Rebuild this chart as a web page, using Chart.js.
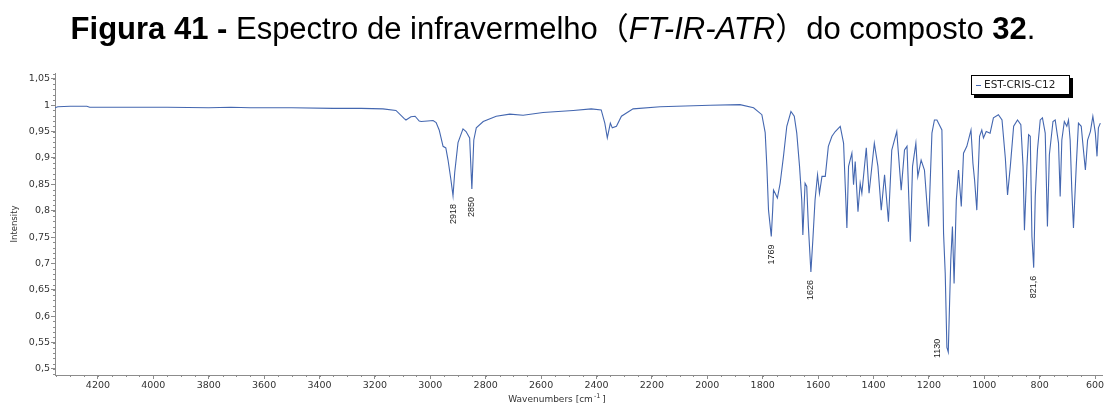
<!DOCTYPE html>
<html>
<head>
<meta charset="utf-8">
<script src="https://cdn.jsdelivr.net/npm/chart.js@4.4.0/dist/chart.umd.min.js"></script>
<style>
  html, body { margin: 0; padding: 0; background: #fff; }
  #wrap { position: relative; width: 1106px; height: 406px; overflow: hidden; }
  #irChart { position: absolute; left: 0; top: 0; }
  #title {
    position: absolute; left: 0; top: 11px; width: 1106px; text-align: center;
    font-family: "Liberation Sans", Arial, "Noto Sans CJK SC", sans-serif;
    font-size: 31px; line-height: 36px; color: #000;
  }
</style>
</head>
<body>
<div id="wrap">
  <canvas id="irChart" width="1106" height="406"></canvas>
  <div id="title"><b>Figura 41 -</b> Espectro de infravermelho（<i>FT-IR-ATR</i>）do composto <b>32</b>.</div>
</div>
<script>
// FT-IR spectrum, wavenumber (cm-1) vs intensity
var wavenumbers = [
  4355, 4345, 4300, 4240, 4230, 4100, 3950, 3800, 3720, 3650, 3500, 3350, 3250, 3171,
  3124, 3095, 3088, 3070, 3055, 3040, 3033, 3010, 2990, 2979, 2968, 2954, 2944, 2936,
  2926, 2918, 2912, 2900, 2882, 2871, 2858, 2850, 2843, 2834, 2809, 2762, 2713, 2665,
  2593, 2484, 2419, 2383, 2370, 2361, 2350, 2343, 2328, 2310, 2268, 2170, 1990, 1882,
  1833, 1803, 1791, 1785, 1779, 1769, 1764, 1761, 1755, 1747, 1737, 1725, 1713, 1698,
  1686, 1677, 1667, 1659, 1655, 1647, 1641, 1635, 1626, 1619, 1611, 1602, 1595, 1586,
  1574, 1563, 1550, 1538, 1520, 1508, 1496, 1490, 1478, 1472, 1466, 1456, 1448, 1442,
  1426, 1416, 1397, 1384, 1372, 1360, 1346, 1334, 1316, 1300, 1288, 1279, 1267, 1259,
  1247, 1240, 1228, 1216, 1201, 1189, 1180, 1171, 1153, 1147, 1141, 1135, 1130, 1125,
  1121, 1115, 1109, 1101, 1093, 1083, 1075, 1063, 1048, 1041, 1035, 1027, 1017, 1009,
  1003, 993, 979, 967, 949, 936, 924, 916, 906, 894, 880, 868, 860, 855, 846, 840, 834,
  828, 821.6, 816, 808, 798, 790, 780, 772, 765, 752, 744, 732, 726, 720, 711, 702, 696,
  690, 684, 678, 668, 660, 650, 642, 635, 627, 617, 608, 599, 593, 588, 581
];
var intensity = [
  0.995, 0.997, 0.998, 0.998, 0.996, 0.996, 0.996, 0.995, 0.996, 0.995, 0.995, 0.994, 0.994, 0.993,
  0.990, 0.975, 0.972, 0.978, 0.979, 0.970, 0.969, 0.970, 0.971, 0.967, 0.953, 0.922, 0.919, 0.896,
  0.860, 0.828, 0.872, 0.929, 0.955, 0.950, 0.938, 0.841, 0.934, 0.957, 0.969, 0.979, 0.983, 0.981,
  0.986, 0.990, 0.993, 0.991, 0.966, 0.938, 0.966, 0.957, 0.960, 0.979, 0.993, 0.997, 1.000, 1.001,
  0.995, 0.982, 0.948, 0.884, 0.801, 0.751, 0.801, 0.839, 0.833, 0.824, 0.852, 0.903, 0.960, 0.988,
  0.979, 0.947, 0.884, 0.820, 0.754, 0.852, 0.846, 0.770, 0.684, 0.744, 0.820, 0.868, 0.833, 0.865,
  0.865, 0.922, 0.941, 0.950, 0.960, 0.928, 0.767, 0.884, 0.909, 0.849, 0.893, 0.798, 0.852, 0.833,
  0.919, 0.833, 0.928, 0.884, 0.801, 0.868, 0.779, 0.915, 0.950, 0.839, 0.915, 0.922, 0.741, 0.884,
  0.928, 0.865, 0.896, 0.877, 0.770, 0.947, 0.972, 0.972, 0.953, 0.757, 0.681, 0.541, 0.532, 0.630,
  0.706, 0.770, 0.662, 0.820, 0.877, 0.808, 0.909, 0.922, 0.953, 0.890, 0.858, 0.801, 0.941, 0.953,
  0.938, 0.950, 0.947, 0.976, 0.982, 0.972, 0.900, 0.830, 0.884, 0.960, 0.972, 0.963, 0.884, 0.763, 0.884, 0.944, 0.941,
  0.751, 0.692, 0.827, 0.915, 0.972, 0.976, 0.947, 0.770, 0.906, 0.969, 0.972, 0.928, 0.827, 0.934, 0.969, 0.960, 0.972,
  0.934, 0.839, 0.767, 0.884, 0.966, 0.960, 0.915, 0.877, 0.934, 0.950, 0.979, 0.947, 0.903, 0.957, 0.966
];

var seriesName = 'EST-CRIS-C12';
var peakWavenumbers = [2918, 2850, 1769, 1626, 1130, 821.6];
var peakLabels = ['2918', '2850', '1769', '1626', '1130', '821,6'];

var xTicks = [4200, 4000, 3800, 3600, 3400, 3200, 3000, 2800, 2600, 2400, 2200, 2000, 1800, 1600, 1400, 1200, 1000, 800, 600];
var yTicks = [0.5, 0.55, 0.6, 0.65, 0.7, 0.75, 0.8, 0.85, 0.9, 0.95, 1, 1.05];
var yTickLabels = ['0,5', '0,55', '0,6', '0,65', '0,7', '0,75', '0,8', '0,85', '0,9', '0,95', '1', '1,05'];

var lineColor = '#4467b0';
var axisColor = '#8c8c8c';
var textColor = '#333';
var uiFont = '"DejaVu Sans", Verdana, sans-serif';

// small ticks between the labelled ones, axis titles
var axisExtras = {
  id: 'axisExtras',
  afterDraw: function (chart) {
    var ctx = chart.ctx, a = chart.chartArea, x = chart.scales.x, y = chart.scales.y;
    ctx.save();
    ctx.strokeStyle = axisColor;
    ctx.lineWidth = 1;
    ctx.beginPath();
    for (var k = Math.ceil(x.min / 50); k * 50 <= x.max; k++) {
      var px = Math.round(x.getPixelForValue(k * 50)) + 0.5;
      ctx.moveTo(px, a.bottom);
      ctx.lineTo(px, a.bottom + 2);
    }
    for (var j = Math.ceil(y.min * 100); j / 100 <= y.max; j++) {
      var py = Math.round(y.getPixelForValue(j / 100)) + 0.5;
      ctx.moveTo(a.left - 2, py);
      ctx.lineTo(a.left, py);
    }
    ctx.stroke();

    ctx.fillStyle = textColor;
    // y title
    ctx.save();
    ctx.translate(15, (a.top + a.bottom) / 2);
    ctx.rotate(-Math.PI / 2);
    ctx.font = '8.5px ' + uiFont;
    ctx.textAlign = 'center';
    ctx.textBaseline = 'middle';
    ctx.fillText('Intensity', 0, 0);
    ctx.restore();

    // x title with superscript
    var main = 'Wavenumbers [cm', sup = '-1', tail = ' ]';
    ctx.font = '9px ' + uiFont;
    var w1 = ctx.measureText(main).width, w3 = ctx.measureText(tail).width;
    ctx.font = '6.5px ' + uiFont;
    var w2 = ctx.measureText(sup).width;
    var sx = 557 - (w1 + w2 + w3) / 2, base = 402;
    ctx.textAlign = 'left';
    ctx.textBaseline = 'alphabetic';
    ctx.font = '9px ' + uiFont;
    ctx.fillText(main, sx, base);
    ctx.font = '6.5px ' + uiFont;
    ctx.fillText(sup, sx + w1 + 1, base - 4);
    ctx.font = '9px ' + uiFont;
    ctx.fillText(tail, sx + w1 + w2, base);
    ctx.restore();
  }
};

// vertical labels under the marked bands
var peakMarks = {
  id: 'peakMarks',
  afterDatasetsDraw: function (chart) {
    var ctx = chart.ctx, a = chart.chartArea, x = chart.scales.x, y = chart.scales.y;
    ctx.save();
    ctx.fillStyle = '#222';
    ctx.font = '9px "Liberation Sans", Arial, sans-serif';
    ctx.textBaseline = 'middle';
    ctx.textAlign = 'right';
    peakWavenumbers.forEach(function (wn, i) {
      var v = intensity[wavenumbers.indexOf(wn)];
      var px = x.getPixelForValue(wn), py = y.getPixelForValue(v);
      var w = ctx.measureText(peakLabels[i]).width;
      var ax = px, ay = py + 8;
      if (ay + w > a.bottom) { ax = px - 11; ay = py + 6 - w; }
      ctx.save();
      ctx.translate(ax, ay);
      ctx.rotate(-Math.PI / 2);
      ctx.fillText(peakLabels[i], 0, 0);
      ctx.restore();
    });
    ctx.restore();
  }
};

// boxed legend with drop shadow in the upper right corner
var boxLegend = {
  id: 'boxLegend',
  afterDraw: function (chart) {
    var ctx = chart.ctx;
    var bx = 971, by = 75, bw = 99, bh = 20;
    ctx.save();
    ctx.fillStyle = '#000';
    ctx.fillRect(bx + 3, by + 3, bw, bh);
    ctx.fillStyle = '#fff';
    ctx.fillRect(bx, by, bw, bh);
    ctx.strokeStyle = '#000';
    ctx.lineWidth = 1;
    ctx.strokeRect(bx + 0.5, by + 0.5, bw - 1, bh - 1);
    ctx.strokeStyle = lineColor;
    ctx.beginPath();
    ctx.moveTo(bx + 5, by + 10.5);
    ctx.lineTo(bx + 10, by + 10.5);
    ctx.stroke();
    ctx.fillStyle = '#222';
    ctx.font = '10.5px ' + uiFont;
    ctx.textBaseline = 'middle';
    ctx.fillText(seriesName, bx + 13, by + 10.5);
    ctx.restore();
  }
};

var ctx = document.getElementById('irChart').getContext('2d');
var irChart = new Chart(ctx, {
  type: 'line',
  data: {
    datasets: [{
      label: seriesName,
      data: wavenumbers.map(function (w, i) { return { x: w, y: intensity[i] }; }),
      borderColor: lineColor,
      borderWidth: 1.1,
      pointRadius: 0,
      tension: 0,
      fill: false
    }]
  },
  options: {
    responsive: false,
    animation: false,
    layout: { padding: { left: 0, top: 73, right: 4, bottom: 0 } },
    plugins: { legend: { display: false }, tooltip: { enabled: false } },
    scales: {
      x: {
        type: 'linear',
        reverse: true,
        min: 575,
        max: 4355,
        afterFit: function (s) { s.height = 31; },
        afterBuildTicks: function (s) { s.ticks = xTicks.map(function (v) { return { value: v }; }); },
        grid: { drawOnChartArea: false, drawTicks: true, tickLength: 4, color: axisColor },
        border: { color: axisColor },
        ticks: {
          color: textColor,
          padding: 1,
          maxRotation: 0,
          autoSkip: false,
          font: { family: uiFont, size: 9.5 },
          callback: function (v) { return String(v); }
        }
      },
      y: {
        min: 0.4885,
        max: 1.061,
        afterFit: function (s) { s.width = 55; },
        afterBuildTicks: function (s) { s.ticks = yTicks.map(function (v) { return { value: v }; }); },
        grid: { drawOnChartArea: false, drawTicks: true, tickLength: 4, color: axisColor },
        border: { color: axisColor },
        ticks: {
          color: textColor,
          padding: 1,
          autoSkip: false,
          font: { family: uiFont, size: 9.5 },
          callback: function (v, i) { return yTickLabels[yTicks.indexOf(v)]; }
        }
      }
    }
  },
  plugins: [axisExtras, peakMarks, boxLegend]
});
</script>
</body>
</html>
